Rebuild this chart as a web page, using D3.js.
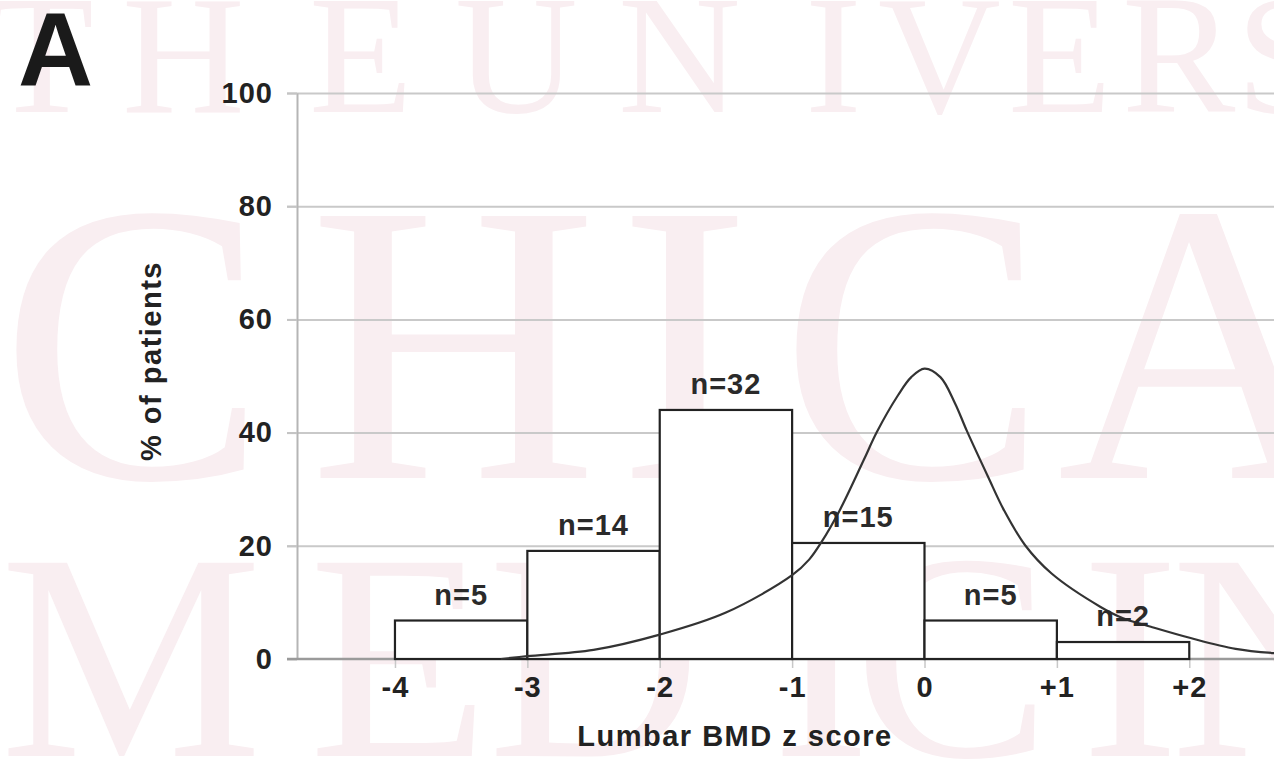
<!DOCTYPE html>
<html lang="en">
<head>
    <meta charset="UTF-8">
    <title>Lumbar BMD z score</title>
    <script src="https://d3js.org/d3.v7.min.js"></script>
    <style>
        body {
            margin: 0;
            background: #fff;
        }

        svg {
            display: block;
            font-family: "Liberation Sans", Arial, sans-serif;
        }

        .watermark {
            font-family: "Liberation Serif", "DejaVu Serif", serif;
            fill: #f9eef1;
        }

        .grid line {
            stroke: #c9c9c9;
            stroke-width: 2;
        }

        .grid path {
            stroke: none;
        }

        .axis text {
            font-size: 29px;
            font-weight: bold;
            fill: #222;
            letter-spacing: 1px;
        }

        .bar {
            fill: #fff;
            stroke: #222;
            stroke-width: 2.2;
        }

        .n-label {
            font-size: 29px;
            font-weight: bold;
            fill: #2a2a2a;
            letter-spacing: 1px;
        }

        .axis-title {
            font-size: 29px;
            font-weight: bold;
            fill: #222;
            letter-spacing: 1.5px;
        }
    </style>
</head>
<body>
    <div id="chart"></div>
    <script>
        // histogram bins (z score edges), patient counts and % of patients
        const binEdges = [-4, -3, -2, -1, 0, 1, 2];
        const binCounts = [5, 14, 32, 15, 5, 2];
        const binPercent = [6.8, 19.1, 44.0, 20.5, 6.8, 3.0];

        // reference curve
        const curveZ = [-3.2, -3.0, -2.5, -2.0, -1.5, -1.0, -0.87, -0.78, -0.64, -0.46, -0.36, -0.2, -0.1, 0,
            0.12, 0.23, 0.32, 0.48, 0.6, 0.76, 0.96, 1.33, 1.5, 1.71, 2.01, 2.35, 2.66];
        const curvePct = [0, 0.5, 1.6, 4.3, 8.2, 14.8, 17.6, 20.6, 26.3, 35.1, 40.1, 46.6, 49.8, 51.3,
            49.8, 45.2, 40.3, 32.2, 26.3, 20.1, 15.1, 9.2, 7.2, 5.7, 3.7, 1.8, 1.0];

        const yTicks = [0, 20, 40, 60, 80, 100];
        const xTickLabels = ["-4", "-3", "-2", "-1", "0", "+1", "+2"];

        // background watermark rows: letters and their left edges
        const wmRows = [
            { text: "THEUNIVERS", x: [-10, 122, 309, 455, 618, 805, 878, 1008, 1122, 1236], y: 112, size: 170 },
            { text: "CHICA", x: [0, 309, 618, 780, 1057], y: 478, size: 400 },
            { text: "MEDICIN", x: [0, 309, 488, 772, 854, 1081, 1171], y: 756, size: 295 }
        ];

        const W = 1274, H = 780;
        const plot = { left: 297, right: 1274, top: 93, bottom: 659 };

        const svg = d3.select("#chart")
            .append("svg")
            .attr("width", W)
            .attr("height", H);

        svg.append("g")
            .attr("class", "watermark")
            .selectAll("text")
            .data(wmRows)
            .enter()
            .append("text")
            .attr("x", d => d.x.join(" "))
            .attr("y", d => d.y)
            .attr("font-size", d => d.size)
            .text(d => d.text);

        const x = d3.scaleLinear()
            .domain([-4.74, 2.64])
            .range([plot.left, plot.right]);

        const y = d3.scaleLinear()
            .domain([0, 100])
            .range([plot.bottom, plot.top]);

        // horizontal gridlines
        svg.append("g")
            .attr("class", "grid")
            .attr("transform", `translate(${plot.left},0)`)
            .call(d3.axisLeft(y).tickValues(yTicks.slice(1)).tickSize(-(plot.right - plot.left)).tickSizeOuter(0).tickFormat(""))
            .call(g => g.selectAll("line").attr("x1", -10));

        // y axis
        svg.append("g")
            .attr("class", "axis")
            .attr("transform", `translate(${plot.left},0)`)
            .call(d3.axisLeft(y).tickValues(yTicks).tickSize(10).tickSizeOuter(0).tickPadding(14))
            .call(g => g.select(".domain").attr("stroke", "#b5b5b5").attr("stroke-width", 2))
            .call(g => g.selectAll(".tick line").attr("stroke", "#c4c4c4").attr("stroke-width", 2));

        // x axis
        svg.append("g")
            .attr("class", "axis")
            .attr("transform", `translate(0,${plot.bottom})`)
            .call(d3.axisBottom(x).tickValues(binEdges).tickFormat((d, i) => xTickLabels[i])
                .tickSize(9).tickSizeOuter(0).tickPadding(8))
            .call(g => g.select(".domain").remove())
            .call(g => g.selectAll(".tick line").attr("stroke", "#c8c8c8").attr("stroke-width", 1.5));

        svg.append("line")
            .attr("x1", plot.left - 10)
            .attr("x2", plot.right)
            .attr("y1", y(0))
            .attr("y2", y(0))
            .attr("stroke", "#9a9a9a")
            .attr("stroke-width", 2.5);

        const bins = binCounts.map((n, i) => ({
            x0: binEdges[i],
            x1: binEdges[i + 1],
            n: n,
            pct: binPercent[i]
        }));

        svg.selectAll(".bar")
            .data(bins)
            .enter()
            .append("rect")
            .attr("class", "bar")
            .attr("x", d => x(d.x0))
            .attr("width", d => x(d.x1) - x(d.x0))
            .attr("y", d => y(d.pct))
            .attr("height", d => y(0) - y(d.pct));

        const line = d3.line()
            .x(d => x(d[0]))
            .y(d => y(d[1]))
            .curve(d3.curveCatmullRom.alpha(0.5));

        svg.append("path")
            .datum(curveZ.map((z, i) => [z, curvePct[i]]))
            .attr("fill", "none")
            .attr("stroke", "#333")
            .attr("stroke-width", 2.2)
            .attr("d", line);

        svg.selectAll(".n-label")
            .data(bins)
            .enter()
            .append("text")
            .attr("class", "n-label")
            .attr("text-anchor", "middle")
            .attr("x", d => (x(d.x0) + x(d.x1)) / 2)
            .attr("y", d => y(d.pct) - 16)
            .text(d => `n=${d.n}`);

        // titles
        svg.append("text")
            .attr("x", 18)
            .attr("y", 85)
            .attr("font-size", 104)
            .attr("font-weight", "bold")
            .attr("fill", "#1a1a1a")
            .text("A");

        svg.append("text")
            .attr("class", "axis-title")
            .attr("text-anchor", "middle")
            .attr("letter-spacing", 2)
            .attr("transform", `translate(161,361) rotate(-90)`)
            .text("% of patients");

        svg.append("text")
            .attr("class", "axis-title")
            .attr("text-anchor", "middle")
            .attr("x", 735)
            .attr("y", 746)
            .text("Lumbar BMD z score");
    </script>
</body>
</html>
